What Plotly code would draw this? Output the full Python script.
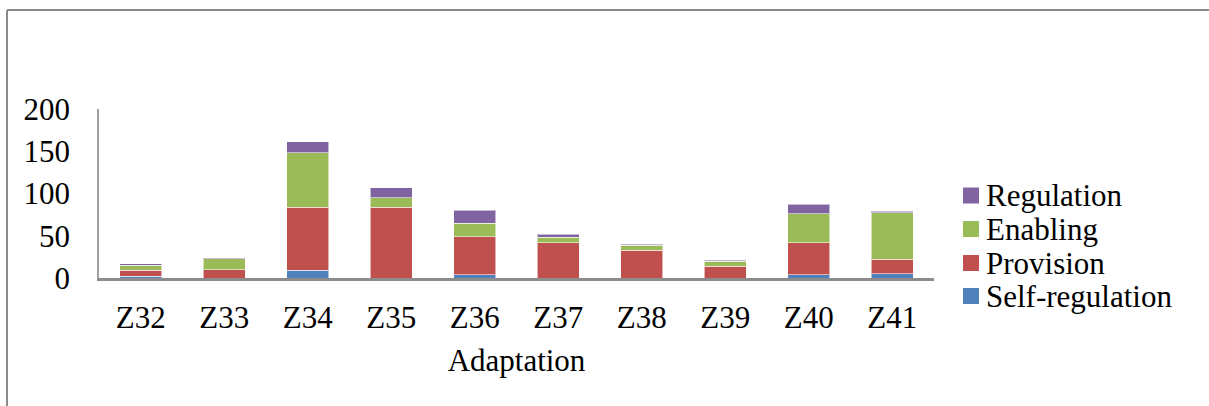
import plotly.graph_objects as go

# Categories and stacked series values
categories = ["Z32", "Z33", "Z34", "Z35", "Z36", "Z37", "Z38", "Z39", "Z40", "Z41"]
self_regulation = [2, 0, 9, 0, 4, 0, 0, 0, 4, 5]
provision = [7, 10, 75, 84, 45, 42, 33, 14, 38, 17]
enabling = [6, 13, 64, 11, 16, 6, 6, 6, 34, 55]
regulation = [2, 1, 13, 12, 15, 4, 1, 1, 11, 2]

series_names = ["Self-regulation", "Provision", "Enabling", "Regulation"]
series_values = [self_regulation, provision, enabling, regulation]
series_colors = ["#4F81BD", "#C0504D", "#9BBB59", "#8064A2"]

FONT = "Liberation Serif"
FS = 31
W, H = 1209, 406
L, R, T, B = 99, 934, 109, 278  # plot-area edges in pixels


def px_x(x):
    return (x - L) / (R - L)


def px_y(y):
    return (B - y) / (B - T)


fig = go.Figure()
for name, vals, col in zip(series_names, series_values, series_colors):
    fig.add_trace(go.Bar(
        x=categories, y=vals, name=name,
        marker=dict(color=col, line=dict(color="rgba(255,255,255,0.55)", width=1)),
        showlegend=False,
    ))

shapes = [
    # outer chart frame (left and top edges)
    dict(type="line", xref="paper", yref="paper", x0=px_x(7), x1=px_x(1215),
         y0=px_y(10), y1=px_y(10), line=dict(color="#8C8C8C", width=2)),
    dict(type="line", xref="paper", yref="paper", x0=px_x(7), x1=px_x(7),
         y0=px_y(10), y1=px_y(410), line=dict(color="#8C8C8C", width=2)),
]
annotations = []

# legend, top entry first
legend_rows = [195.5, 229, 263, 296]
for row_y, name, col in zip(legend_rows, series_names[::-1], series_colors[::-1]):
    shapes.append(dict(type="rect", xref="paper", yref="paper",
                       x0=px_x(963), x1=px_x(979),
                       y0=px_y(row_y + 8), y1=px_y(row_y - 8),
                       fillcolor=col, line=dict(width=0)))
    annotations.append(dict(xref="paper", yref="paper", x=px_x(984), y=px_y(row_y),
                            xanchor="left", yanchor="middle", text=name, showarrow=False,
                            font=dict(family=FONT, size=FS, color="black")))

fig.update_layout(
    barmode="stack",
    bargap=0.5,
    width=W, height=H, autosize=False,
    margin=dict(l=L, r=W - R, t=T, b=H - B, pad=0),
    paper_bgcolor="white", plot_bgcolor="white",
    font=dict(family=FONT, size=FS, color="black"),
    shapes=shapes,
    annotations=annotations,
    xaxis=dict(
        showline=True, linecolor="#8C8C8C", linewidth=2.5,
        showgrid=False, ticks="", ticklabelstandoff=10,
        tickfont=dict(family=FONT, size=FS, color="black"),
        title=dict(text="Adaptation", standoff=16,
                   font=dict(family=FONT, size=FS, color="black")),
        automargin=False,
    ),
    yaxis=dict(
        range=[0, 200], dtick=50, tick0=0,
        showline=True, linecolor="#A0A0A0", linewidth=1.5,
        showgrid=False, zeroline=False, ticks="", ticklabelstandoff=21,
        tickfont=dict(family=FONT, size=FS, color="black"),
        automargin=False,
    ),
)

fig.write_html("out.html")
